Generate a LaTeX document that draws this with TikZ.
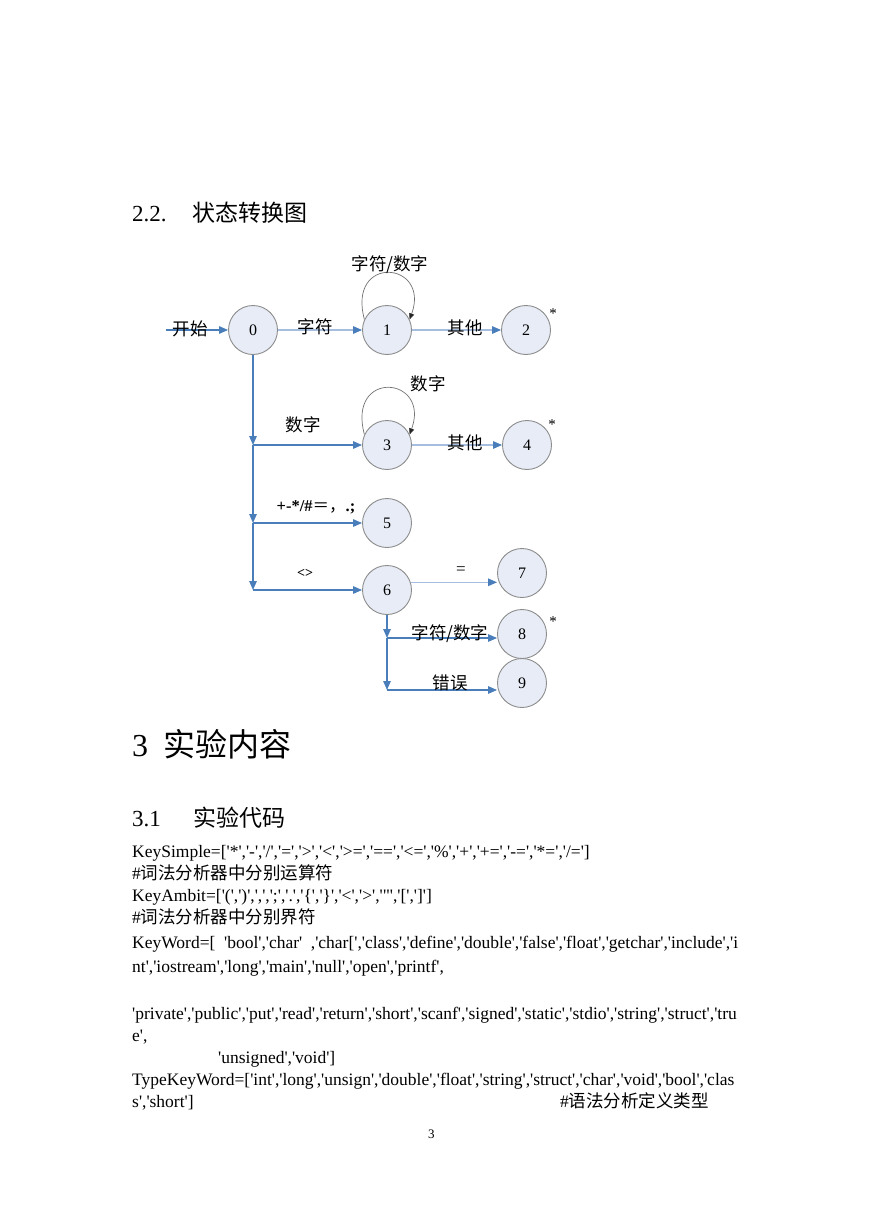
\documentclass[tikz,border=0pt]{standalone}
\usepackage{fontspec}
\setmainfont{Liberation Serif}
\newfontfamily\cjk{Noto Sans CJK SC}
\newfontfamily\codefont{Liberation Serif}
\usepackage{xcolor}
\usetikzlibrary{arrows.meta,positioning}
\definecolor{arrblue}{RGB}{74,126,187}
\definecolor{paleblue}{RGB}{165,189,222}
\definecolor{statefill}{RGB}{231,236,246}

\begin{document}
\begin{tikzpicture}[x=1pt,y=-1pt,>={Triangle[length=9pt,width=7.5pt]},
    state/.style={circle,draw=black!45,line width=0.9pt,fill=statefill,
                  minimum size=49pt,inner sep=0pt,font=\fontsize{16}{16}\selectfont},
    flow/.style={->,draw=arrblue,line width=1.3pt},
    weak/.style={-{Triangle[length=9pt,width=7.5pt,color=arrblue]},draw=paleblue,
                 line width=1.3pt},
    self/.style={-{Triangle[length=6pt,width=5pt,color=black!85]},draw=black!55,line width=0.7pt},
    lbl/.style={inner sep=0pt,font=\cjk\fontsize{17.5}{17.5}\selectfont},
    acc/.style={inner sep=0pt,font=\fontsize{15}{15}\selectfont},
    code/.style={anchor=base west,inner sep=0pt,font=\codefont\fontsize{17.5}{20}\selectfont},
    head/.style={anchor=base west,inner sep=0pt}]
  \fill[white] (0,0) rectangle (869,1228);
  \useasboundingbox (0,0) rectangle (869,1228);

  \node[head,font=\cjk\fontsize{23}{23}\selectfont] (h22) at (132,221)
        {\makebox[60pt][l]{\codefont 2.2.}状态转换图};

  \node[state] (s0) at (253,330) {0};
  \node[state] (s1) at (387,330) {1};
  \node[state] (s2) at (526,330) {2};
  \node[state] (s3) at (387,445) {3};
  \node[state] (s4) at (527,445) {4};
  \node[state] (s5) at (387,523) {5};
  \node[state] (s6) at (387,590) {6};
  \node[state] (s7) at (522,573) {7};
  \node[state] (s8) at (522,634) {8};
  \node[state] (s9) at (522,683) {9};

  \coordinate (in) at (166,330);
  \coordinate (j3) at (s0.south |- s3);
  \coordinate (j5) at (s0.south |- s5);
  \coordinate (j6) at (s0.south |- s6);
  \coordinate (k8) at (387,638);
  \coordinate (k9) at (387,690);

  \draw[flow] (in) -- (s0);
  \draw[weak] (s0) -- (s1);
  \draw[weak] (s1) -- (s2);
  \draw[weak] (s3) -- (s4);
  \draw[weak] (s6.18) -- (s6.18 -| s7.west);
  \draw[self] (s1.155) .. controls +(105:68pt) and +(70:62pt) .. (s1.25);
  \draw[self] (s3.155) .. controls +(105:68pt) and +(70:62pt) .. (s3.25);

  \draw[flow] (s0) -- (j3);
  \draw[flow] (j3) -- (s3);
  \draw[flow] (j3) -- (j5);
  \draw[flow] (j5) -- (s5);
  \draw[flow] (j5) -- (j6);
  \draw[flow] (j6) -- (s6);
  \draw[flow] (s6) -- (k8);
  \draw[flow] (k8) -- (k8 -| s8.west);
  \draw[flow] (k8) -- (k9);
  \draw[flow] (k9) -- (k9 -| s9.west);

  \node[lbl] (lin) at (190,329) {开始};
  \node[lbl] (l01) at (315,327) {字符};
  \node[lbl] (l11) at (390,265) {字符/数字};
  \node[lbl] (l12) at (465,328) {其他};
  \node[lbl] (l03) at (303,425) {数字};
  \node[lbl] (l33) at (428,384) {数字};
  \node[lbl] (l34) at (465,443) {其他};
  \node[inner sep=0pt,font=\bfseries\fontsize{16.5}{16.5}\selectfont] (l05) at (316,507)
        {+-*/\#{\cjk\mdseries ＝，}.;};
  \node[inner sep=0pt,font=\bfseries\fontsize{14}{14}\selectfont] (l06) at (305,573) {<>};
  \node[inner sep=0pt,font=\fontsize{17}{17}\selectfont] (l67) at (461,571) {=};
  \node[lbl] (l68) at (450,634) {字符/数字};
  \node[lbl] (l69) at (450,683) {错误};
  \node[acc] (a2) at (553,314) {*};
  \node[acc] (a4) at (552,425) {*};
  \node[acc] (a8) at (553,622) {*};

  \node[head,font=\cjk\fontsize{32}{32}\selectfont] (h3) at (132,756)
        {\makebox[31pt][l]{\codefont 3}实验内容};
  \node[head,font=\cjk\fontsize{23}{23}\selectfont] (h31) at (132,826)
        {\makebox[61pt][l]{\codefont 3.1}实验代码};

  \node[code] (c1) at (132,857)
        {KeySimple=['*','-','/','=','>','<','>=','==','<=','\%','+','+=','-=','*=','/=']};
  \node[code] (c2) at (132,879) {\#{\cjk 词法分析器中分别运算符}};
  \node[code] (c3) at (132,901)
        {KeyAmbit=['(',')',',',';','.','\{','\}','<','>','"','[',']']};
  \node[code] (c4) at (132,923) {\#{\cjk 词法分析器中分别界符}};
  \node[code] (c5) at (132,948)
        {\makebox[606pt][s]{KeyWord=[\ \ 'bool','char'\ \ ,'char[','class','define','double','false','float','getchar','include','i}};
  \node[code] (c6) at (132,972) {nt','iostream','long','main','null','open','printf',};
  \node[code] (c7) at (132,1019)
        {'private','public','put','read','return','short','scanf','signed','static','stdio','string','struct','tru};
  \node[code] (c8) at (132,1041) {e',};
  \node[code] (c9) at (218,1063) {'unsigned','void']};
  \node[code] (c10) at (132,1085)
        {TypeKeyWord=['int','long','unsign','double','float','string','struct','char','void','bool','clas};
  \node[code] (c11) at (132,1107) {s','short']};
  \node[code] (c12) at (560,1107) {\#{\cjk 语法分析定义类型}};
  \node[code,font=\codefont\fontsize{13}{13}\selectfont] (pg) at (428,1138) {3};
\end{tikzpicture}
\end{document}
